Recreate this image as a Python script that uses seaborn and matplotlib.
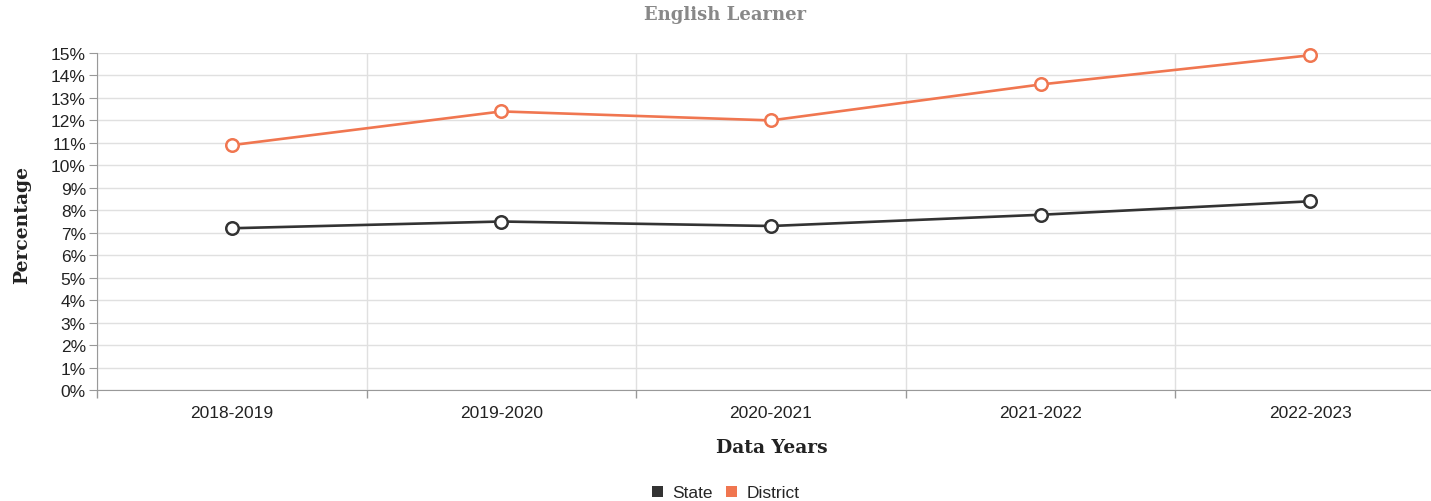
import numpy as np
import pandas as pd
import seaborn as sns
import matplotlib.pyplot as plt
from matplotlib.ticker import FixedLocator, FuncFormatter
from matplotlib.patches import Patch

years = ['2018-2019', '2019-2020', '2020-2021', '2021-2022', '2022-2023']
state = [7.2, 7.5, 7.3, 7.8, 8.4]
district = [10.9, 12.4, 12.0, 13.6, 14.9]
series_names = ['State', 'District']
palette = {'State': '#333333', 'District': '#f07650'}

df = pd.DataFrame({
    'pos': list(range(len(years))) * 2,
    'value': state + district,
    'series': ['State'] * len(years) + ['District'] * len(years),
})

sns.set_style('white')
plt.rcParams['font.family'] = ['Liberation Sans', 'DejaVu Sans']

fig = plt.figure(figsize=(14.31, 5.02), dpi=100)
# plot area runs a little past the right edge, as in the original
ax = fig.add_axes([0.0678, 0.2211, 0.942, 0.6713])

sns.lineplot(data=df, x='pos', y='value', hue='series', palette=palette,
             marker='o', markersize=9, markerfacecolor='white',
             markeredgewidth=1.8, linewidth=1.9, ax=ax, legend=False,
             clip_on=False, zorder=3)
for line in ax.lines:
    line.set_markeredgecolor(line.get_color())

ax.set_xlim(-0.5, len(years) - 0.5)
ax.set_ylim(0, 15)
ax.set_yticks(np.arange(0, 16, 1))
ax.yaxis.set_major_formatter(FuncFormatter(lambda v, p: f'{int(v)}%'))
ax.set_xticks(range(len(years)))
ax.set_xticklabels(years)
ax.xaxis.set_minor_locator(FixedLocator(np.arange(-0.5, len(years), 1)))
ax.tick_params(axis='x', which='major', length=0, labelsize=12.5, pad=11, colors='#222222')
ax.tick_params(axis='x', which='minor', length=6, color='#999999', width=1, bottom=True)
ax.tick_params(axis='y', length=6, color='#999999', labelsize=12.5, pad=2, left=True)
for lbl in ax.get_yticklabels():
    lbl.set_color('#222222')

ax.grid(axis='y', color='#e0e0e0', linewidth=1)
ax.grid(axis='x', which='minor', color='#e0e0e0', linewidth=1)
ax.set_axisbelow(True)
for s in ['top', 'right']:
    ax.spines[s].set_visible(False)
ax.spines['left'].set_color('#999999')
ax.spines['bottom'].set_color('#999999')
ax.set_xlabel('')
ax.set_ylabel('')

fig.text(0.5066, 0.970, 'English Learner', ha='center', va='center',
         fontsize=13, fontweight='bold', color='#888888', family='DejaVu Serif')
fig.text(0.5395, 0.108, 'Data Years', ha='center', va='center',
         fontsize=13.5, fontweight='bold', color='#222222', family='DejaVu Serif')
fig.text(0.0154, 0.552, 'Percentage', ha='center', va='center', rotation=90,
         fontsize=13.5, fontweight='bold', color='#222222', family='DejaVu Serif')

handles = [Patch(facecolor=palette[n], edgecolor='none', label=n) for n in series_names]
fig.legend(handles=handles, loc='center', bbox_to_anchor=(0.507, 0.016), ncol=2,
           frameon=False, fontsize=12.5, handlelength=0.65, handleheight=0.65,
           handletextpad=0.5, columnspacing=0.8)

fig.savefig('out.png', dpi=100)
